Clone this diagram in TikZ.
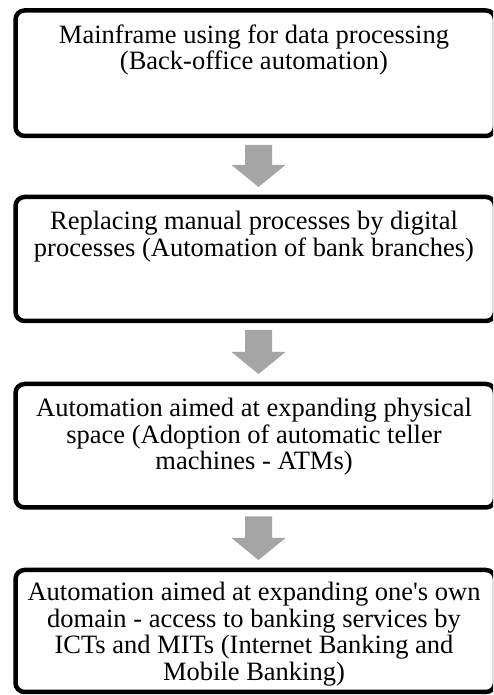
\documentclass[tikz,border=0pt]{standalone}
\usepackage{fontspec}
\setmainfont{Liberation Serif}
\newfontfamily\rawserif{Liberation Serif}[Ligatures=ResetAll]
\usetikzlibrary{calc}
\definecolor{arrowgray}{RGB}{165,165,165}
\tikzset{
  stagebox/.style={draw=black, line width=4.5pt, rounded corners=9pt, outer sep=0pt,
    minimum width=479.5pt, inner sep=0pt, fill=none},
  stagetext/.style={anchor=north, align=center, inner sep=0pt,
    font=\fontsize{26.5pt}{26.5pt}\selectfont},
}
\newcommand\blockarrow[2]{%
  \fill[arrowgray] let \p1=(#1.south), \p2=(#2.north) in
    (\x1+3.25pt-13.5pt,\y1-9pt) -- (\x1+3.25pt+13.5pt,\y1-9pt) --
    (\x1+3.25pt+13.5pt,\y2+32pt) -- (\x1+3.25pt+27pt,\y2+32pt) --
    (\x1+3.25pt,\y2+10pt) -- (\x1+3.25pt-27pt,\y2+32pt) --
    (\x1+3.25pt-13.5pt,\y2+32pt) -- cycle;}
\begin{document}
\begin{tikzpicture}[x=1pt,y=1pt]
\useasboundingbox (0,0) rectangle (493,695);
\begin{scope}
\clip (0,0) rectangle (493,695);
\node[stagebox, minimum height=125.5pt] (b1) at (255.25,621.75) {};
\node[stagebox, minimum height=124pt] (b2) at (255.25,436) {};
\node[stagebox, minimum height=123.5pt] (b3) at (255.25,249.25) {};
\node[stagebox, minimum height=122pt] (b4) at (255.25,64) {};
\end{scope}
\node[stagetext] (t1) at ([xshift=-1.25pt,yshift=-14pt]b1.north) {Mainframe using for data processing\\(Back-office automation)};
\node[stagetext] (t2) at ([xshift=-1.25pt,yshift=-14pt]b2.north) {Replacing manual processes by digital\\processes (Automation of bank branches)};
\node[stagetext] (t3) at ([xshift=-1.25pt,yshift=-14pt]b3.north) {Automation aimed at expanding physical\\space (Adoption of automatic teller\\machines - ATMs)};
\node[stagetext] (t4) at ([xshift=-1.25pt,yshift=-12pt]b4.north) {Automation aimed at expanding one{\rawserif'}s own\\domain - access to banking services by\\ICTs and MITs (Internet Banking and\\Mobile Banking)};
\blockarrow{b1}{b2}
\blockarrow{b2}{b3}
\blockarrow{b3}{b4}
\end{tikzpicture}
\end{document}
